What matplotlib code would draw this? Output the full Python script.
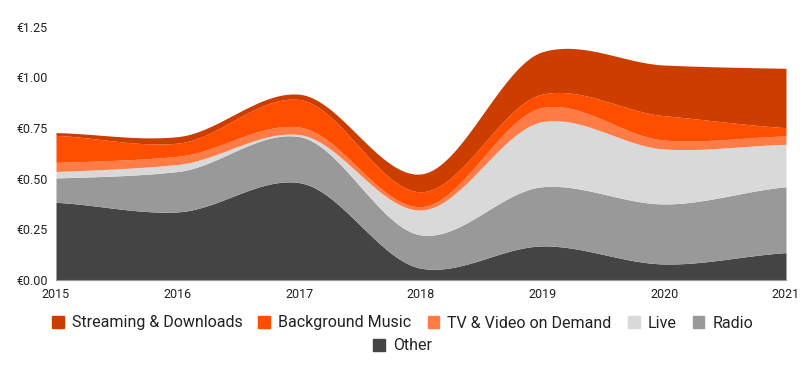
import matplotlib.pyplot as plt
import numpy as np
from matplotlib.patches import Patch

# values (euros per capita, by year)
years = [2015, 2016, 2017, 2018, 2019, 2020, 2021]
other = [0.383, 0.336, 0.480, 0.058, 0.168, 0.079, 0.135]
radio = [0.120, 0.199, 0.227, 0.164, 0.292, 0.296, 0.325]
live = [0.032, 0.035, 0.010, 0.123, 0.321, 0.271, 0.209]
tv_vod = [0.045, 0.040, 0.037, 0.017, 0.070, 0.044, 0.041]
background = [0.133, 0.065, 0.136, 0.073, 0.066, 0.120, 0.041]
streaming = [0.014, 0.032, 0.026, 0.088, 0.209, 0.250, 0.293]

y_ticks = [0, 0.25, 0.5, 0.75, 1.0, 1.25]

# bottom to top
layers = [other, radio, live, tv_vod, background, streaming]
names = ["Other", "Radio", "Live", "TV & Video on Demand", "Background Music",
         "Streaming & Downloads"]
colors = ["#444444", "#999999", "#d9d9d9", "#ff7c46", "#ff4e00", "#cc3d00"]


def smooth(x, y, s=0.65, n=60):
    """
    Cardinal spline through the points (s=1 is Catmull-Rom)
    :param x: x values
    :param y: y values
    :param s: tangent scale
    :param n: samples per segment
    """
    x = np.asarray(x, float)
    y = np.asarray(y, float)
    m = np.empty_like(y)
    m[1:-1] = s * (y[2:] - y[:-2]) / (x[2:] - x[:-2])
    m[0] = s * (y[1] - y[0]) / (x[1] - x[0])
    m[-1] = s * (y[-1] - y[-2]) / (x[-1] - x[-2])
    xs, ys = [], []
    for i in range(len(x) - 1):
        h = x[i + 1] - x[i]
        t = np.linspace(0, 1, n, endpoint=(i == len(x) - 2))
        h00 = 2 * t**3 - 3 * t**2 + 1
        h10 = t**3 - 2 * t**2 + t
        h01 = -2 * t**3 + 3 * t**2
        h11 = t**3 - t**2
        xs.append(x[i] + t * h)
        ys.append(h00 * y[i] + h10 * h * m[i] + h01 * y[i + 1] + h11 * h * m[i + 1])
    return np.concatenate(xs), np.concatenate(ys)


plt.rcParams['font.family'] = ['Roboto', 'DejaVu Sans']

fig = plt.figure(figsize=(8.05, 3.75), dpi=100)
ax = fig.add_axes([56 / 805, 95 / 375, 730 / 805, 253.5 / 375])

# stack the tops, then smooth each top line
tops = np.cumsum(np.array(layers), axis=0)
base = None
for top, c in zip(tops, colors):
    xs, ys = smooth(years, top)
    if base is None:
        ax.fill_between(xs, 0, ys, color=c, lw=0)
    else:
        ax.fill_between(xs, base, ys, color=c, lw=0)
    base = ys

ax.set_xlim(years[0], years[-1])
ax.set_ylim(0, 1.25)
ax.set_xticks(years)
ax.set_yticks(y_ticks)
ax.set_yticklabels([f"€{v:.2f}" for v in y_ticks])
ax.tick_params(length=0, labelsize=9, colors="#222222", pad=6)
ax.tick_params(axis='x', pad=6)
for sp in ["top", "right", "left"]:
    ax.spines[sp].set_visible(False)
ax.spines["bottom"].set_color("#999999")
ax.spines["bottom"].set_zorder(5)

# legend in two centred rows, top layer first
handles = [Patch(color=c) for c in colors[::-1]]
labels = names[::-1]
leg_kw = dict(frameon=False, fontsize=11.5, handlelength=0.75, handleheight=0.75,
              handletextpad=0.5, columnspacing=1.0, labelcolor="#222222")
fig.legend(handles[:5], labels[:5], loc="center", ncol=5,
           bbox_to_anchor=(0.5, 1 - 323 / 375), **leg_kw)
fig.legend(handles[5:], labels[5:], loc="center", ncol=1,
           bbox_to_anchor=(0.5, 1 - 346 / 375), **leg_kw)

fig.savefig("out.png", dpi=100)
